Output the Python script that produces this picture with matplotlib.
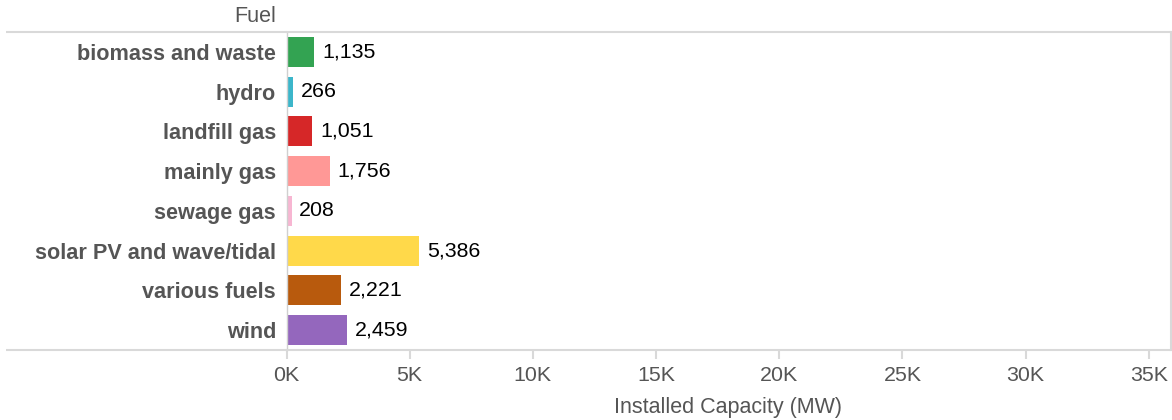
import matplotlib
matplotlib.use("Agg")
import matplotlib.pyplot as plt
from matplotlib.ticker import FuncFormatter

plt.rcParams["font.family"] = ["Liberation Sans", "DejaVu Sans"]

fuels = ["biomass and waste", "hydro", "landfill gas", "mainly gas",
         "sewage gas", "solar PV and wave/tidal", "various fuels", "wind"]
capacity_mw = [1135, 266, 1051, 1756, 208, 5386, 2221, 2459]
bar_colors = ["#33a352", "#3cb6ca", "#d62728", "#ff9896",
              "#f7b6d2", "#ffd94a", "#b85a0d", "#9467bd"]
x_ticks = [0, 5000, 10000, 15000, 20000, 25000, 30000, 35000]

GRID = "#d9d9d9"
TEXT = "#555555"

W, H = 1172, 420
fig = plt.figure(figsize=(W / 100, H / 100), dpi=100)
left, right, top, bottom = 286.5, 1170.5, 32, 350
ax = fig.add_axes([left / W, 1 - bottom / H, (right - left) / W, (bottom - top) / H])

ypos = list(range(len(fuels)))
ax.barh(ypos, capacity_mw, height=0.75, color=bar_colors, zorder=2)
for y, v in zip(ypos, capacity_mw):
    ax.annotate(f"{v:,}", (v, y), xytext=(5.5, 0), textcoords="offset points",
                va="center", ha="left", fontsize=15.4, color="black")

ax.set_ylim(len(fuels) - 0.5, -0.5)
ax.set_xlim(0, 35880)
ax.set_yticks(ypos)
ax.set_yticklabels(fuels, fontsize=15.6, fontweight="bold", color=TEXT)
ax.tick_params(axis="y", length=0, pad=7.5)

ax.set_xticks(x_ticks)
ax.xaxis.set_major_formatter(FuncFormatter(lambda v, _: f"{v / 1000:.0f}K"))
ax.tick_params(axis="x", length=6.5, width=1.5, color=GRID, pad=5,
               labelsize=15.4, labelcolor=TEXT)
ax.set_xlabel("Installed Capacity (MW)", fontsize=15.5, color=TEXT, labelpad=9)

for side in ("top", "bottom", "right"):
    ax.spines[side].set_color(GRID)
    ax.spines[side].set_linewidth(1.5)
ax.spines["left"].set_color("#d0d0d0")
ax.spines["left"].set_linewidth(1.0)

# header row lines extend across the label column
x0 = (6 - left) / (right - left)
for yy in (0, 1):
    ax.plot([x0, 0], [yy, yy], transform=ax.transAxes, clip_on=False,
            color=GRID, lw=1.5, solid_capstyle="butt")

fig.text(276 / W, 1 - 17 / H, "Fuel", ha="right", va="center",
         fontsize=15.5, color=TEXT)

fig.savefig("out.png", dpi=100)
